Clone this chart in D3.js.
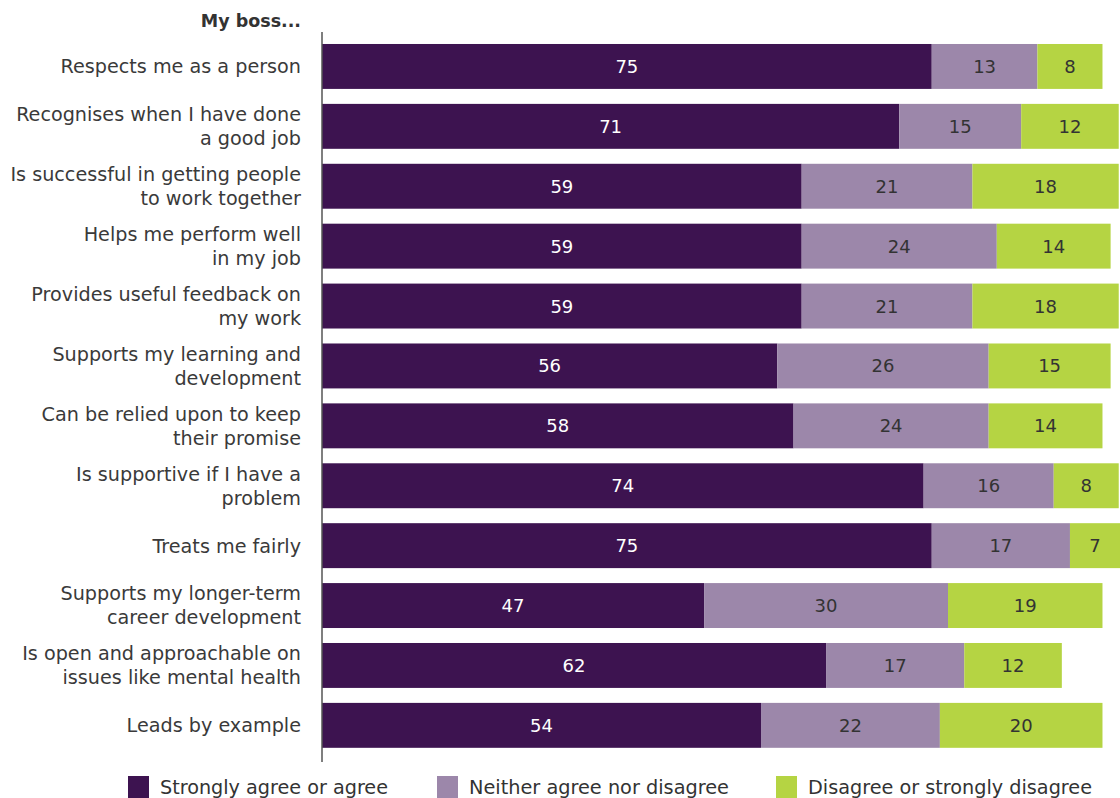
<!DOCTYPE html>
<html>
<head>
<meta charset="utf-8">
<script src="https://cdn.jsdelivr.net/npm/d3@7"></script>
<style>
  html, body { margin: 0; padding: 0; background: #fff; }
  svg { display: block; }
  text { font-family: "DejaVu Sans", "Noto Sans", sans-serif; }
</style>
</head>
<body>
<svg id="chart" width="1120" height="798"></svg>
<script>
// Survey statements (label lines) and shares in percent
const statements = [
  ["Respects me as a person"],
  ["Recognises when I have done", "a good job"],
  ["Is successful in getting people", "to work together"],
  ["Helps me perform well", "in my job"],
  ["Provides useful feedback on", "my work"],
  ["Supports my learning and", "development"],
  ["Can be relied upon to keep", "their promise"],
  ["Is supportive if I have a", "problem"],
  ["Treats me fairly"],
  ["Supports my longer-term", "career development"],
  ["Is open and approachable on", "issues like mental health"],
  ["Leads by example"]
];
const agree    = [75, 71, 59, 59, 59, 56, 58, 74, 75, 47, 62, 54];
const neither  = [13, 15, 21, 24, 21, 26, 24, 16, 17, 30, 17, 22];
const disagree = [ 8, 12, 18, 14, 18, 15, 14,  8,  7, 19, 12, 20];
const seriesNames = ["Strongly agree or agree", "Neither agree nor disagree", "Disagree or strongly disagree"];
const seriesColors = ["#3d1350", "#9c87aa", "#b5d443"];
const labelColors = ["#ffffff", "#333333", "#333333"];

const svg = d3.select("#chart");
const x0 = 322;

const x = d3.scaleLinear().domain([0, 100]).range([x0, x0 + 813]);
const y = d3.scaleBand()
  .domain(d3.range(statements.length))
  .range([36.5, 36.5 + 59.9 * statements.length])
  .paddingInner(0.25).paddingOuter(0.125);

const rows = statements.map((s, i) => ({ i, agree: agree[i], neither: neither[i], disagree: disagree[i] }));
const keys = ["agree", "neither", "disagree"];
const stack = d3.stack().keys(keys)(rows);

const layer = svg.append("g").selectAll("g").data(stack).join("g")
  .attr("fill", (d, k) => seriesColors[k]);

layer.selectAll("rect").data(d => d).join("rect")
  .attr("x", d => x(d[0]))
  .attr("y", (d, i) => y(i))
  .attr("width", d => x(d[1]) - x(d[0]))
  .attr("height", y.bandwidth());

// Segment value labels
svg.append("g").selectAll("g").data(stack).join("g")
  .attr("fill", (d, k) => labelColors[k])
  .selectAll("text").data(d => d).join("text")
  .attr("x", d => (x(d[0]) + Math.min(x(d[1]), 1120)) / 2)
  .attr("y", (d, i) => y(i) + y.bandwidth() / 2)
  .attr("dy", "0.36em")
  .attr("text-anchor", "middle")
  .attr("font-size", 18)
  .text(d => d[1] - d[0]);

// Category axis line
svg.append("line")
  .attr("x1", x0).attr("x2", x0)
  .attr("y1", 32).attr("y2", 762)
  .attr("stroke", "#555").attr("stroke-width", 1.5);

// Heading
svg.append("text")
  .attr("x", 301).attr("y", 27)
  .attr("text-anchor", "end")
  .attr("font-size", 17.5).attr("font-weight", 700)
  .attr("fill", "#333")
  .text("My boss...");

// Statement labels
const lab = svg.append("g").selectAll("text").data(statements).join("text")
  .attr("text-anchor", "end")
  .attr("font-size", 19.2)
  .attr("fill", "#3a3a3a")
  .attr("transform", (d, i) => `translate(301,${y(i) + y.bandwidth() / 2})`);
lab.selectAll("tspan").data(d => d.map((t, j) => ({ t, j, n: d.length }))).join("tspan")
  .attr("x", 0)
  .attr("y", d => (d.j - (d.n - 1) / 2) * 24)
  .attr("dy", "0.36em")
  .text(d => d.t);

// Legend
const legX = [128, 437, 776];
const leg = svg.append("g").selectAll("g").data(seriesNames).join("g")
  .attr("transform", (d, k) => `translate(${legX[k]},776)`);
leg.append("rect").attr("width", 21).attr("height", 22).attr("fill", (d, k) => seriesColors[k]);
leg.append("text")
  .attr("x", 32).attr("y", 18)
  .attr("font-size", 19)
  .attr("fill", "#333")
  .attr("textLength", (d, k) => [228, 260, 284][k])
  .attr("lengthAdjust", "spacingAndGlyphs")
  .text(d => d);
</script>
</body>
</html>
